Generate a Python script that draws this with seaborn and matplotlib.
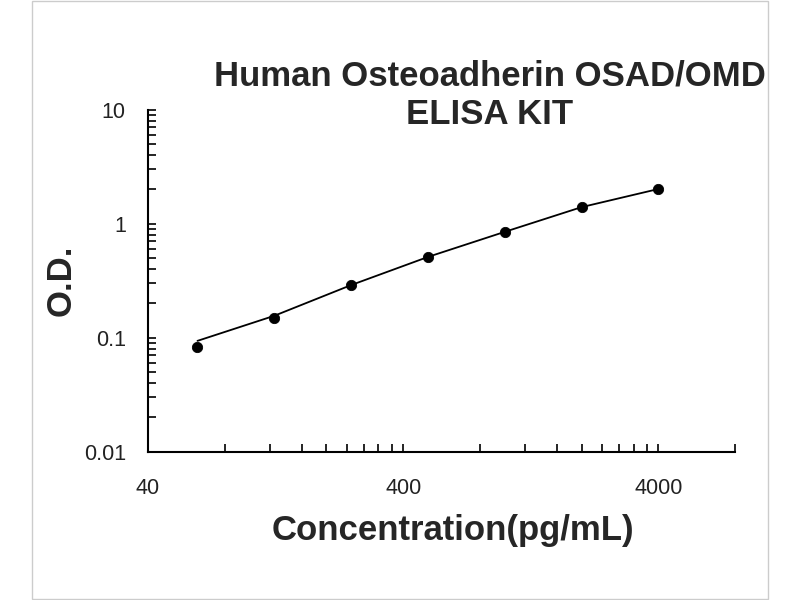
import numpy as np
import pandas as pd
import matplotlib.pyplot as plt
import matplotlib.ticker as mticker
import seaborn as sns

sns.set_theme(style="white")
plt.rcParams['font.family'] = ['Liberation Sans', 'DejaVu Sans']

# standard curve data
conc = [62.5, 125, 250, 500, 1000, 2000, 4000]
od = [0.083, 0.15, 0.292, 0.514, 0.851, 1.41, 2.03]
# fitted curve value at each standard, as drawn in the picture
fit_od = [0.094, 0.156, 0.29, 0.512, 0.85, 1.40, 2.02]
x_ticks = [40, 400, 4000]
x_tick_labels = ['40', '400', '4000']
y_ticks = [0.01, 0.1, 1, 10]
y_tick_labels = ['0.01', '0.1', '1', '10']

df = pd.DataFrame({'conc': conc, 'od': od})
fit = pd.DataFrame({'conc': conc, 'od': fit_od})

fig = plt.figure(figsize=(8, 6), dpi=100)
ax = fig.add_axes([0.185, 0.247, 0.734, 0.57])

sns.lineplot(data=fit, x='conc', y='od', ax=ax, color='black', linewidth=1.3)
sns.scatterplot(data=df, x='conc', y='od', ax=ax, color='black', s=55,
                edgecolor='black', zorder=3)

ax.set_xscale('log')
ax.set_yscale('log')
ax.set_xlim(40, 8000)
ax.set_ylim(0.01, 10)

ax.xaxis.set_major_locator(mticker.FixedLocator(x_ticks))
ax.xaxis.set_major_formatter(mticker.FixedFormatter(x_tick_labels))
minor_x = [40 * k for k in range(2, 10)] + [400 * k for k in range(2, 10)] + [8000]
ax.xaxis.set_minor_locator(mticker.FixedLocator(minor_x))
ax.xaxis.set_minor_formatter(mticker.NullFormatter())

ax.yaxis.set_major_locator(mticker.FixedLocator(y_ticks))
ax.yaxis.set_major_formatter(mticker.FixedFormatter(y_tick_labels))
ax.yaxis.set_minor_locator(mticker.LogLocator(base=10, subs=np.arange(2, 10)))
ax.yaxis.set_minor_formatter(mticker.NullFormatter())

for s in ['top', 'right']:
    ax.spines[s].set_visible(False)
for s in ['left', 'bottom']:
    ax.spines[s].set_color('black')
    ax.spines[s].set_linewidth(1.5)

ax.tick_params(axis='x', which='both', direction='in', length=6, width=1.2,
               colors='black', bottom=True, pad=19, labelsize=15.5)
ax.tick_params(axis='y', which='both', direction='in', length=6, width=1.2,
               colors='black', left=True, pad=16, labelsize=15.5)
for lab in ax.get_xticklabels() + ax.get_yticklabels():
    lab.set_color('#222222')
ax.set_xlabel('')
ax.set_ylabel('')

fig.text(453 / 800, 1 - 540 / 600, 'Concentration(pg/mL)', fontsize=25,
         fontweight='bold', ha='center', va='baseline')
fig.text(61 / 800, 1 - 280 / 600, 'O.D.', fontsize=25, fontweight='bold',
         rotation=90, ha='center', va='center')
fig.text(490 / 800, 1 - 86 / 600, 'Human Osteoadherin OSAD/OMD', fontsize=25,
         fontweight='bold', ha='center', va='baseline')
fig.text(490 / 800, 1 - 124 / 600, 'ELISA KIT', fontsize=25,
         fontweight='bold', ha='center', va='baseline')

fig.patches.append(plt.Rectangle((0.04, 0.002), 0.92, 0.996, transform=fig.transFigure,
                                 fill=False, edgecolor='#cccccc', linewidth=1))

fig.savefig('out.png', dpi=100)
